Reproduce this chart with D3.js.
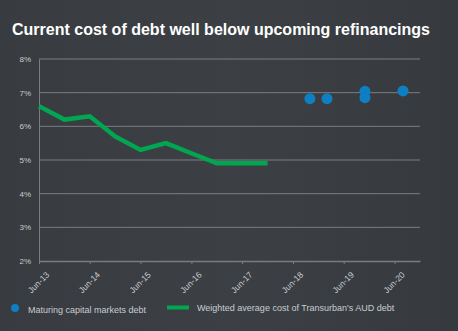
<!DOCTYPE html>
<html><head><meta charset="utf-8">
<script src="https://cdn.jsdelivr.net/npm/d3@7"></script>
<style>
html,body{margin:0;padding:0;background:#393d42;}
svg{display:block;font-family:"Liberation Sans",Arial,sans-serif;}
</style></head>
<body><svg id="c" width="458" height="331"></svg>
<script>
const title = "Current cost of debt well below upcoming refinancings";
const lineDates = ["2013-06","2013-12","2014-06","2014-12","2015-06","2015-12","2016-06","2016-12","2017-06","2017-12"];
const lineValues = [6.6,6.2,6.3,5.7,5.3,5.5,5.2,4.9,4.9,4.9];
const dotDates = ["2018-10","2019-02","2019-11","2019-11","2020-08"];
const dotValues = [6.82,6.82,7.04,6.85,7.05];
const yTicks = [2,3,4,5,6,7,8];
const xTickDates = ["2013-06","2014-06","2015-06","2016-06","2017-06","2018-06","2019-06","2020-06"];
const legendLabels = ["Maturing capital markets debt","Weighted average cost of Transurban's AUD debt"];

const parse = d3.timeParse("%Y-%m");
const svg = d3.select("#c");
const defs = svg.append("defs");
const g0 = defs.append("linearGradient").attr("id","bg").attr("x1","0").attr("x2","1");
g0.append("stop").attr("offset","0").attr("stop-color","#383c41");
g0.append("stop").attr("offset","0.5").attr("stop-color","#3c4045");
g0.append("stop").attr("offset","1").attr("stop-color","#363a3f");
svg.append("rect").attr("width",458).attr("height",331).attr("fill","url(#bg)");

svg.append("text").attr("x",12).attr("y",35).attr("fill","#ffffff")
  .attr("font-size","16px").attr("font-weight","bold").attr("textLength",418).attr("lengthAdjust","spacingAndGlyphs").text(title);

const x = d3.scaleTime().domain([parse("2013-06"), parse("2020-12")]).range([39, 420]);
const y = d3.scaleLinear().domain([2,8]).range([261, 59]);

// grid
svg.append("g").selectAll("line").data(yTicks.slice(1)).join("line")
  .attr("x1",39).attr("x2",420).attr("y1",d=>y(d)).attr("y2",d=>y(d))
  .attr("stroke","#7a7d80").attr("stroke-width",1);

// y axis
const ya = svg.append("g").attr("transform","translate(39,0)")
  .call(d3.axisLeft(y).tickValues(yTicks).tickFormat(d=>d+"%").tickSize(0).tickPadding(8));
ya.select(".domain").attr("stroke","#7a7d80");
ya.selectAll("text").attr("fill","#c8ccd0").attr("font-size","8px").attr("font-family","Liberation Sans, Arial, sans-serif");

// x axis
const xa = svg.append("g").attr("transform","translate(0,261)")
  .call(d3.axisBottom(x).tickValues(xTickDates.map(parse)).tickFormat(d3.timeFormat("Jun-%y")).tickSize(3).tickSizeOuter(0));
xa.select(".domain").attr("stroke","#7a7d80").attr("stroke-width",1.5);
xa.selectAll(".tick line").attr("stroke","#7a7d80");
xa.selectAll("text").attr("fill","#c8ccd0").attr("font-size","8.5px")
  .attr("font-family","Liberation Sans, Arial, sans-serif")
  .attr("text-anchor","end").attr("dy","0.35em")
  .attr("transform","translate(4,8) rotate(-45)");

// line
const ld = lineDates.map((d,i)=>({d:parse(d), v:lineValues[i]}));
svg.append("path").datum(ld)
  .attr("d", d3.line().x(d=>x(d.d)).y(d=>y(d.v)))
  .attr("fill","none").attr("stroke","#00a650").attr("stroke-width",4.5).attr("stroke-linejoin","miter");

// dots
svg.append("g").selectAll("circle").data(dotDates.map((d,i)=>({d:parse(d), v:dotValues[i]}))).join("circle")
  .attr("cx",d=>x(d.d)).attr("cy",d=>y(d.v)).attr("r",5.5).attr("fill","#0d7fc2");

// legend
svg.append("circle").attr("cx",15).attr("cy",308).attr("r",4).attr("fill","#0d7fc2");
svg.append("text").attr("x",28).attr("y",313).attr("fill","#c8ccd0").attr("font-size","9px").text(legendLabels[0]);
svg.append("line").attr("x1",167).attr("x2",189).attr("y1",307.5).attr("y2",307.5).attr("stroke","#00a650").attr("stroke-width",4);
svg.append("text").attr("x",197).attr("y",311).attr("fill","#c8ccd0").attr("font-size","9px").text(legendLabels[1]);
</script></body></html>
